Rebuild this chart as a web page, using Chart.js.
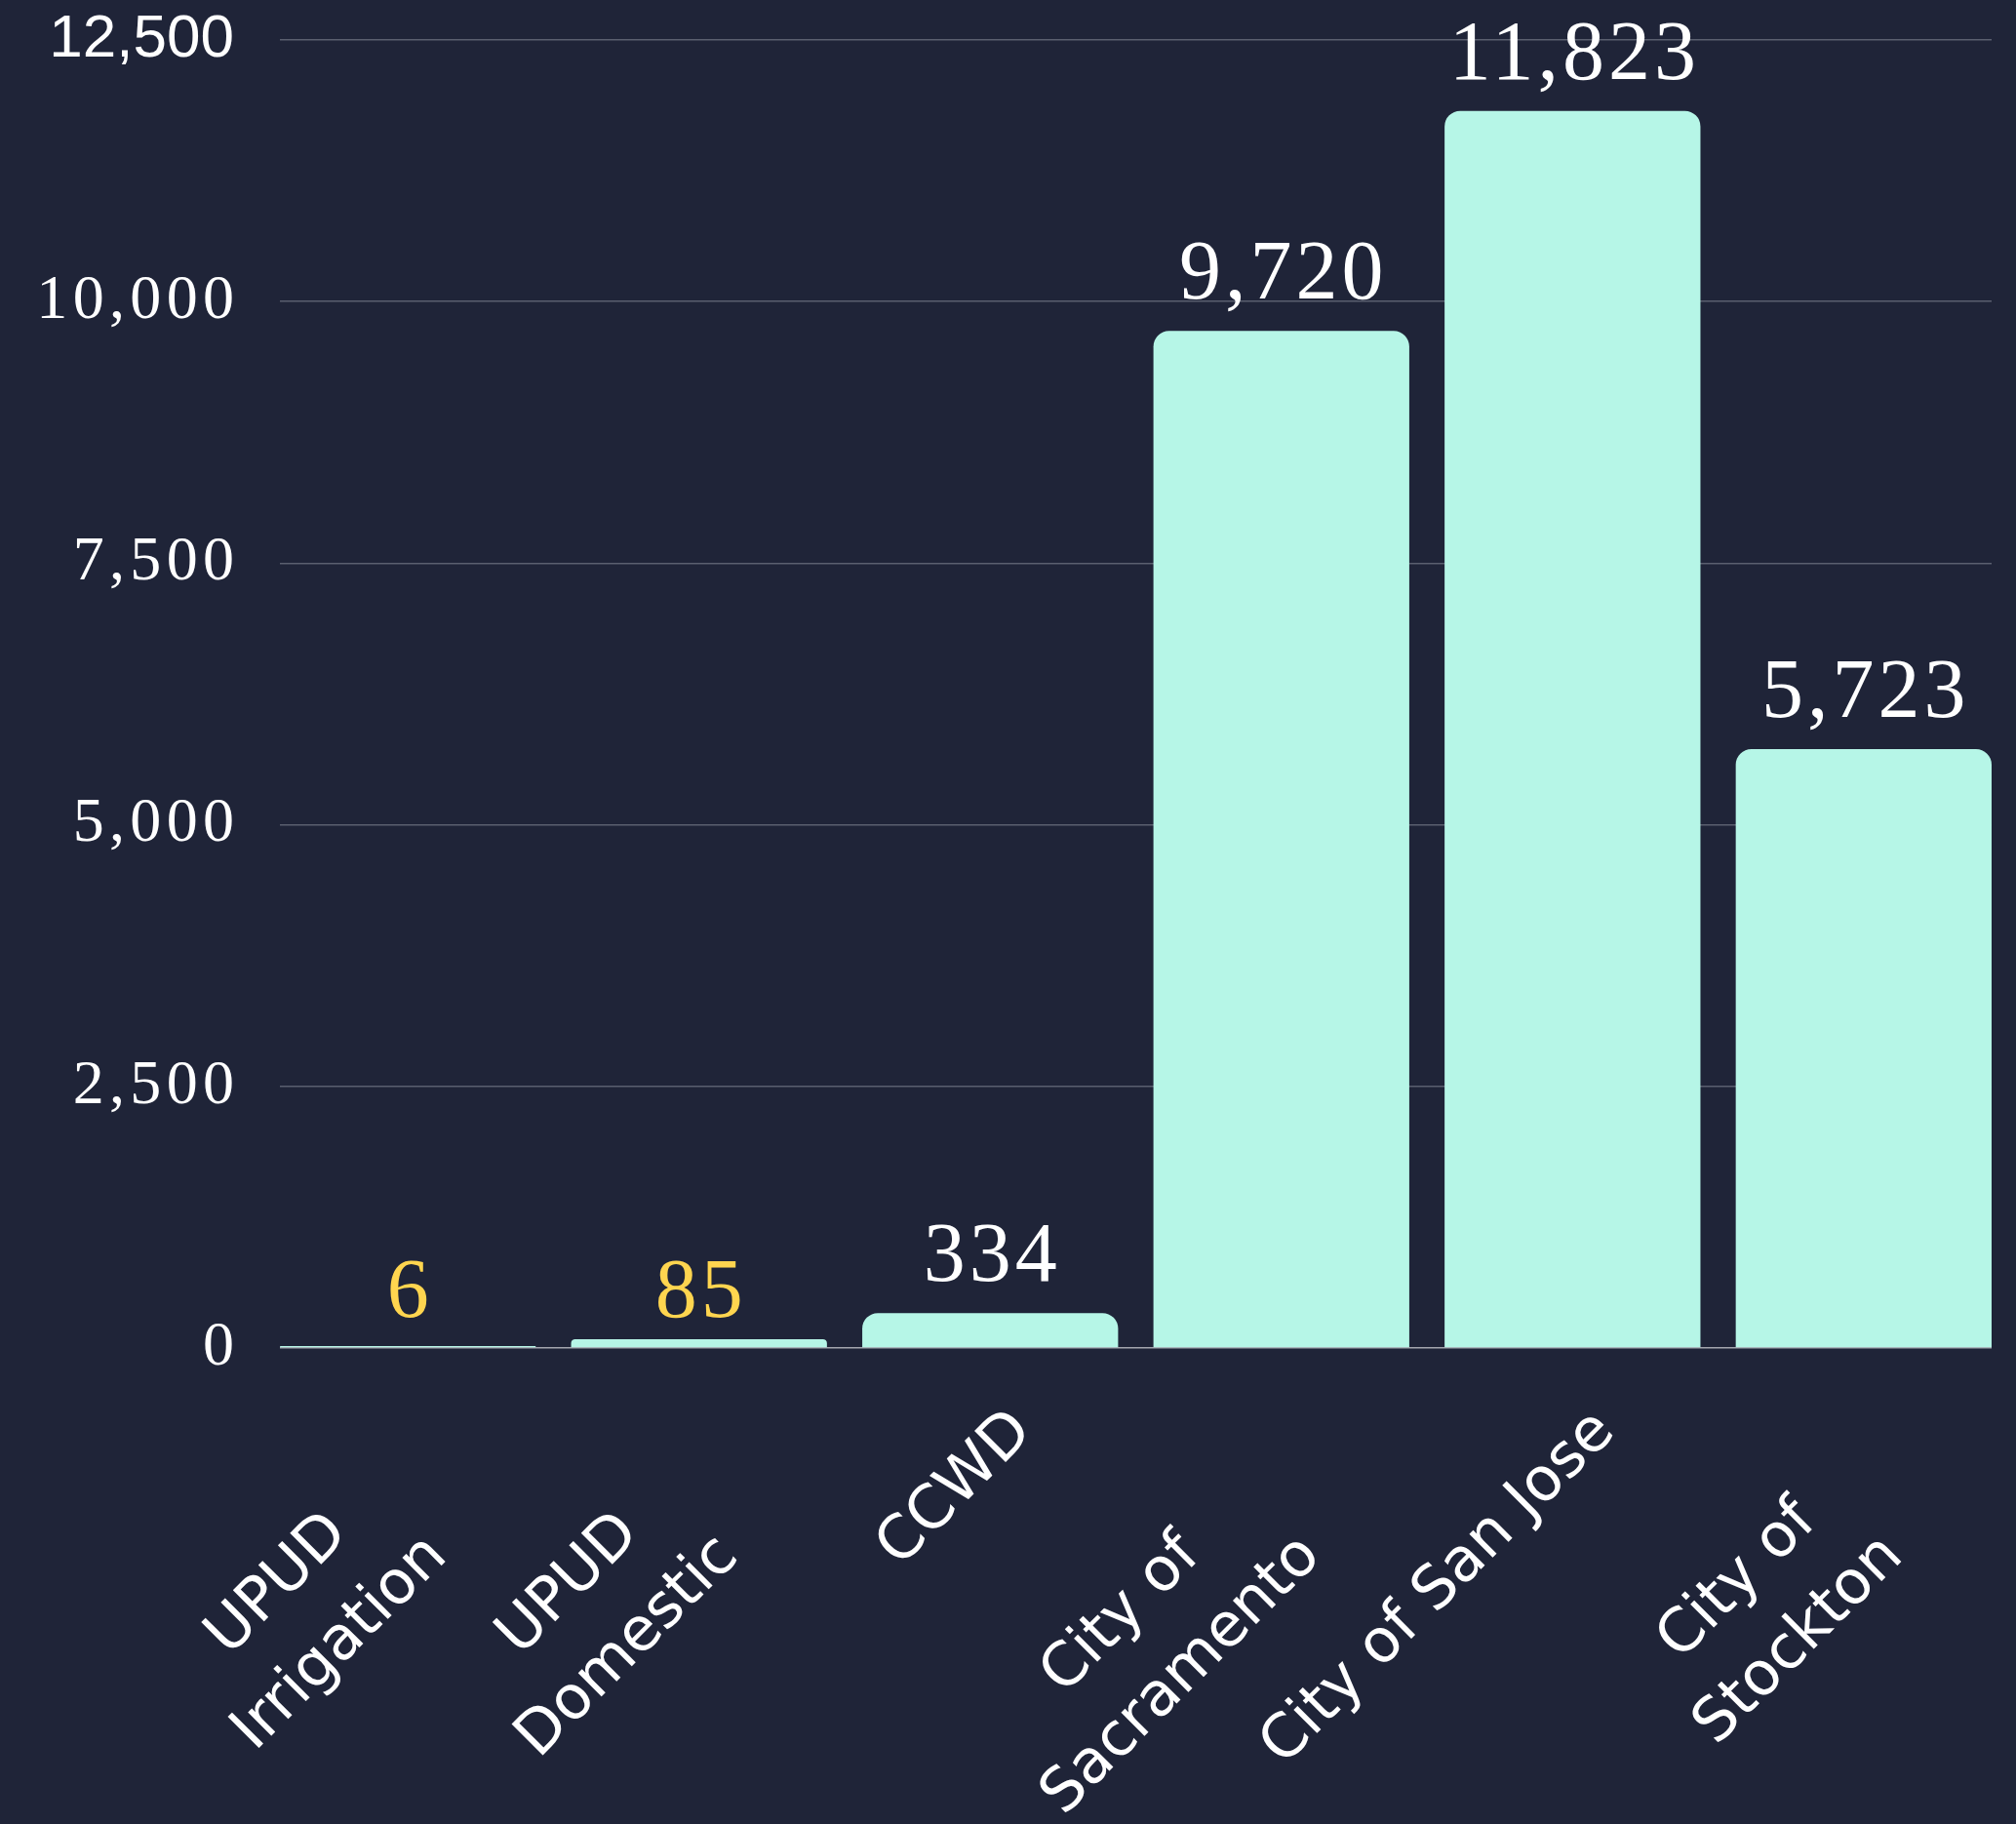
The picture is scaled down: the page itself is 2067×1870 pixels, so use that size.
<!DOCTYPE html>
<html>
<head>
<meta charset="utf-8">
<script src="https://cdn.jsdelivr.net/npm/chart.js@4.4.1/dist/chart.umd.min.js"></script>
<style>
  html, body { margin: 0; padding: 0; background: #1F2438; }
  canvas { display: block; }
</style>
</head>
<body>
<canvas id="chart" width="2067" height="1870"></canvas>
<script>
// ---- data ----
const categories = [
  ["UPUD", "Irrigation"],
  ["UPUD", "Domestic"],
  ["CCWD"],
  ["City of", "Sacramento"],
  ["City of San Jose"],
  ["City of", "Stockton"]
];
const values = [6, 85, 334, 9720, 11823, 5723];
const yTickStep = 2500;
const yMax = 12500;

// ---- style ----
const BG = '#1F2438';
const BAR = '#B6F6E7';
const GRID = '#5A5F6F';
const ZERO_LINE = '#A3A5AE';
const X_FONT = { family: '"DejaVu Sans", sans-serif', size: 62, lineHeight: 1.42 };
const MULTI_SHIFT = 93;

const measureCtx = document.createElement('canvas').getContext('2d');
function padLines(lines) {
  measureCtx.font = X_FONT.size + 'px ' + X_FONT.family;
  let ch = '\u200A';
  let unit = measureCtx.measureText(ch).width;
  if (!unit) { ch = '\u00A0'; unit = measureCtx.measureText(ch).width; }
  const widths = lines.map(l => measureCtx.measureText(l).width);
  const maxW = Math.max(...widths);
  const shift = lines.length > 1 ? MULTI_SHIFT : 0;
  return lines.map((l, i) => l + ch.repeat(Math.max(0, Math.round(((maxW - widths[i]) / 2 + shift) / unit))));
}

const bgPlugin = {
  id: 'bg',
  beforeDraw(chart) {
    const c = chart.ctx;
    c.save();
    c.fillStyle = BG;
    c.fillRect(0, 0, chart.width, chart.height);
    c.restore();
  }
};

const valueLabels = {
  id: 'valueLabels',
  afterDatasetsDraw(chart) {
    const c = chart.ctx;
    const meta = chart.getDatasetMeta(0);
    const zeroY = chart.scales.y.getPixelForValue(0);
    c.save();
    c.font = '86px "Liberation Serif", serif';
    try { c.letterSpacing = '4px'; } catch (e) {}
    c.textAlign = 'center';
    c.textBaseline = 'alphabetic';
    meta.data.forEach((bar, i) => {
      const h = zeroY - bar.y;
      const small = h < 24;
      c.fillStyle = small ? '#FFD54F' : '#FFFFFF';
      const y = small ? zeroY - 32 : bar.y - 33;
      c.fillText(values[i].toLocaleString('en-US'), bar.x + 2, y);
    });
    c.restore();
  }
};

new Chart(document.getElementById('chart'), {
  type: 'bar',
  data: {
    datasets: [{
      data: values.map((v, i) => ({ x: i, y: v })),
      backgroundColor: BAR,
      borderWidth: 0,
      borderRadius: 16,
      minBarLength: 2,
      barPercentage: 0.8787,
      categoryPercentage: 1
    }]
  },
  options: {
    responsive: false,
    devicePixelRatio: 1,
    animation: false,
    layout: { padding: { top: 41, right: 25, left: 0, bottom: 0 } },
    plugins: { legend: { display: false }, tooltip: { enabled: false } },
    scales: {
      x: {
        type: 'linear',
        offset: false,
        min: -0.4394,
        max: categories.length - 1 + 0.4394,
        grid: { display: false },
        border: { display: false },
        afterBuildTicks: s => { s.ticks = categories.map((_, i) => ({ value: i })); },
        afterFit: s => { s.height = 488; s.paddingLeft = 0; s.paddingRight = 0; },
        ticks: {
          autoSkip: false,
          minRotation: 45,
          maxRotation: 45,
          labelOffset: 34,
          padding: 37,
          color: '#FFFFFF',
          font: X_FONT,
          callback: (v) => padLines(categories[v] || [''])
        }
      },
      y: {
        min: 0,
        max: yMax,
        grid: {
          drawTicks: false,
          lineWidth: 1.5,
          color: ctx => (ctx.tick && ctx.tick.value === 0) ? ZERO_LINE : GRID
        },
        border: { display: false },
        afterFit: s => { s.width = 287; s.paddingTop = 0; s.paddingBottom = 0; },
        ticks: {
          stepSize: yTickStep,
          padding: 47,
          color: '#FFFFFF',
          font: ctx => (ctx.tick && ctx.tick.value === yMax)
            ? { family: '"Liberation Sans", Arial, sans-serif', size: 62 }
            : { family: '"Liberation Serif", serif', size: 64 },
          callback: v => {
            const s = Number(v).toLocaleString('en-US');
            return v === yMax ? s : s.split('').join('\u200A');
          }
        }
      }
    }
  },
  plugins: [bgPlugin, valueLabels]
});
</script>
</body>
</html>
